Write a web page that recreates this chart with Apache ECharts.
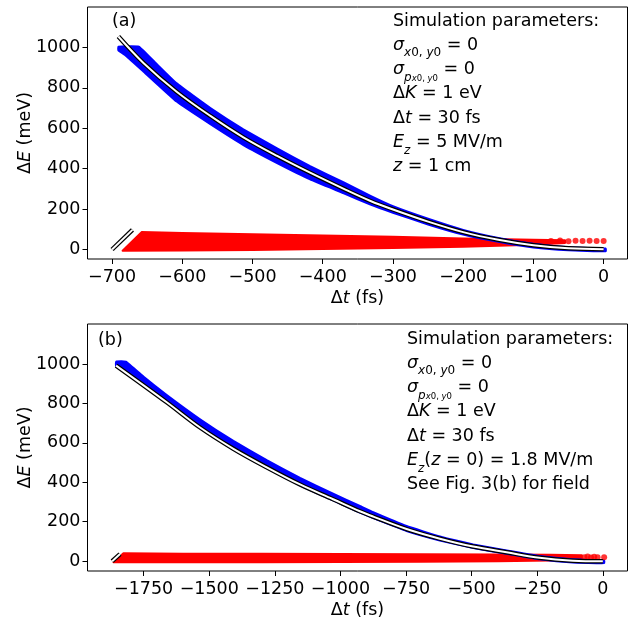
<!DOCTYPE html>
<html>
<head>
<meta charset="utf-8">
<script src="https://cdn.jsdelivr.net/npm/echarts@6/dist/echarts.min.js"></script>
<style>html,body{margin:0;padding:0;background:#fff;}#c{width:632px;height:620px;}</style>
</head>
<body>
<div id="c"></div>
<script>
// ---------- data ----------
const topXTicks = [-700, -600, -500, -400, -300, -200, -100, 0];
const bottomXTicks = [-1750, -1500, -1250, -1000, -750, -500, -250, 0];
const yTicks = [0, 200, 400, 600, 800, 1000];
const topXRange = [-735, 34];
const bottomXRange = [-1964, 94];
const topYRange = [-47, 1200];
const bottomYRange = [-50, 1203];

// panel (a)
const topLine = [[-691,1054],[-655,922],[-608,781],[-560,661],[-513,555],[-465,463],[-418,380],[-370,300],[-332,240],[-300,198],[-250,138],[-200,86],[-150,48],[-100,21],[-50,6],[0,1]];
const topBlueUpper = [[-691,1004],[-662,1004],[-640,930],[-608,822],[-560,700],[-513,595],[-465,500],[-418,412],[-370,332],[-332,265],[-300,214],[-250,152],[-200,97],[-150,57],[-100,28],[-50,11],[3,5]];
const topBlueLower = [[-691,985],[-680,958],[-655,880],[-608,732],[-560,620],[-513,517],[-465,428],[-418,347],[-370,278],[-332,222],[-300,182],[-250,124],[-200,74],[-150,38],[-100,10],[-50,-4],[3,-9]];
const topRedUpper = [[-658,86],[-600,82],[-500,75],[-400,69],[-300,63],[-200,55],[-100,48],[-55,46]];
const topRedLower = [[-685,-6],[-600,-5],[-500,-2],[-400,3],[-300,8],[-200,14],[-100,24],[-55,32]];
const topRedDots = [[-75,42],[-62,45],[-50,41],[-40,43],[-30,42],[-20,43],[-10,42],[0,42]];
const topRedLine = [[-700,0],[-671,97]];

// panel (b)
const bottomLine = [[-1855,992],[-1662,806],[-1535,678],[-1408,570],[-1281,476],[-1154,389],[-1028,314],[-926,253],[-875,226],[-748,163],[-621,114],[-494,74],[-367,45],[-241,17],[-114,2],[0,-1]];
const bottomBlueUpper = [[-1855,1012],[-1818,1012],[-1750,935],[-1662,843],[-1535,720],[-1408,610],[-1281,512],[-1154,422],[-1028,342],[-926,280],[-875,248],[-748,178],[-621,125],[-494,85],[-367,54],[-241,26],[-114,10],[5,5]];
const bottomBlueLower = [[-1855,990],[-1750,893],[-1662,804],[-1535,675],[-1408,566],[-1281,472],[-1154,384],[-1028,308],[-926,246],[-875,218],[-748,153],[-621,105],[-494,66],[-367,37],[-241,9],[-114,-7],[5,-10]];
const bottomRedUpper = [[-1827,40],[-1600,38],[-1300,37],[-1000,36],[-700,35],[-400,34],[-200,32],[-80,30]];
const bottomRedLower = [[-1865,-6],[-1600,-6],[-1300,-5],[-1000,-4],[-700,-3],[-400,0],[-200,3],[-80,8]];
const bottomRedDots = [[-70,20],[-58,24],[-45,19],[-33,22],[-20,20],[5,20]];
const bottomRedLine = [[-1870,0],[-1840,36]];

// ---------- chart ----------
const FONT = 'DejaVu Sans';
const FS = 17.5;
const minus = v => String(v).replace('-', '\u2212');

const nameRich = {n: {fontFamily: FONT, fontSize: FS, color: '#000'}, i: {fontFamily: FONT, fontSize: FS, fontStyle: 'italic', color: '#000'}};
function xAxis(gi, range, ticks) {
  return {
    type: 'value', gridIndex: gi, min: range[0], max: range[1],
    axisLine: {show: false, onZero: false},
    splitLine: {show: false},
    axisTick: {show: true, inside: false, length: 5, customValues: ticks, lineStyle: {color: '#000', width: 1}},
    axisLabel: {show: true, customValues: ticks, color: '#000', fontFamily: FONT, fontSize: FS, margin: 9, formatter: minus},
    name: '{n|Δ}{i|t}{n| (fs)}', nameLocation: 'middle', nameGap: 30,
    nameTextStyle: {rich: nameRich}
  };
}
function yAxis(gi, range) {
  return {
    type: 'value', gridIndex: gi, min: range[0], max: range[1],
    axisLine: {show: false, onZero: false},
    splitLine: {show: false},
    axisTick: {show: true, inside: false, length: 5, customValues: yTicks, lineStyle: {color: '#000', width: 1}},
    axisLabel: {show: true, customValues: yTicks, color: '#000', fontFamily: FONT, fontSize: FS, margin: 7, formatter: v => String(v)},
    name: '{n|Δ}{i|E}{n| (meV)}', nameLocation: 'middle', nameGap: 53, nameRotate: 90, nameMoveOverlap: false,
    nameTextStyle: {rich: nameRich}
  };
}
function band(gi, upper, lower, color, smooth) {
  const poly = upper.concat(lower.slice().reverse());
  return {
    type: 'custom', xAxisIndex: gi, yAxisIndex: gi, data: poly, silent: true, animation: false,
    renderItem: (params, api) => {
      if (params.dataIndex !== 0) return;
      return {type: 'polygon', shape: {points: poly.map(p => api.coord(p)), smooth: smooth},
        style: {fill: color, stroke: color, lineWidth: 2, lineJoin: 'round'}};
    }
  };
}
function outlined(gi, data, smooth) {
  const base = {type: 'line', xAxisIndex: gi, yAxisIndex: gi, data: data, symbol: 'none', smooth: smooth,
    silent: true, animation: false};
  return [
    Object.assign({}, base, {lineStyle: {color: '#000', width: 4.5, cap: 'butt'}}),
    Object.assign({}, base, {lineStyle: {color: '#fff', width: 2, cap: 'butt'}})
  ];
}
function dots(gi, data) {
  return {type: 'scatter', xAxisIndex: gi, yAxisIndex: gi, data: data, symbolSize: 6, silent: true, animation: false,
    itemStyle: {color: '#ff0000'}};
}

const LH = 28;
const richStyles = {
  n: {fontFamily: FONT, fontSize: FS, color: '#000', lineHeight: LH},
  i: {fontFamily: FONT, fontSize: FS, fontStyle: 'italic', color: '#000', lineHeight: LH},
  si: {fontFamily: FONT, fontSize: FS, fontStyle: 'italic', color: '#000', lineHeight: LH},
  sub: {fontFamily: FONT, fontSize: 12, color: '#000', verticalAlign: 'bottom', lineHeight: 16},
  subi: {fontFamily: FONT, fontSize: 12, fontStyle: 'italic', color: '#000', verticalAlign: 'bottom', lineHeight: 16},
  psub: {fontFamily: FONT, fontSize: 12, fontStyle: 'italic', color: '#000', verticalAlign: 'bottom', lineHeight: 20},
  ssub: {fontFamily: FONT, fontSize: 8.5, color: '#000', verticalAlign: 'bottom', lineHeight: 11},
  ssubi: {fontFamily: FONT, fontSize: 8.5, fontStyle: 'italic', color: '#000', verticalAlign: 'bottom', lineHeight: 11}
};
const topText = [
  '{n|Simulation parameters:}',
  '{si|σ}{subi|x}{sub|0, }{subi|y}{sub|0}{n| = 0}',
  '{si|σ}{psub|p}{ssubi|x}{ssub|0, }{ssubi|y}{ssub|0}{n| = 0}',
  '{n|Δ}{i|K}{n| = 1 eV}',
  '{n|Δ}{i|t}{n| = 30 fs}',
  '{i|E}{subi|z}{n| = 5 MV/m}',
  '{i|z}{n| = 1 cm}'
];
const bottomText = [
  '{n|Simulation parameters:}',
  '{si|σ}{subi|x}{sub|0, }{subi|y}{sub|0}{n| = 0}',
  '{si|σ}{psub|p}{ssubi|x}{ssub|0, }{ssubi|y}{ssub|0}{n| = 0}',
  '{n|Δ}{i|K}{n| = 1 eV}',
  '{n|Δ}{i|t}{n| = 30 fs}',
  '{i|E}{subi|z}{n|(}{i|z}{n| = 0) = 1.8 MV/m}',
  '{n|See Fig. 3(b) for field}'
];
const graphics = [];
function addText(lines, x, y0, dy) {
  lines.forEach((t, k) => graphics.push({type: 'text', x: x, y: y0 + k * dy, silent: true,
    style: {text: t, rich: richStyles, verticalAlign: 'middle', align: 'left'}}));
}
addText(topText, 393, 21, 24.3);
addText(bottomText, 407, 339, 24.3);
graphics.push({type: 'text', x: 112, y: 21, style: {text: '(a)', font: FS + 'px "' + FONT + '"', fill: '#000', verticalAlign: 'middle'}});
graphics.push({type: 'text', x: 98, y: 340, style: {text: '(b)', font: FS + 'px "' + FONT + '"', fill: '#000', verticalAlign: 'middle'}});

const chart = echarts.init(document.getElementById('c'), null, {renderer: 'canvas'});
chart.setOption({
  backgroundColor: '#fff',
  animation: false,
  grid: [
    {left: 87.5, width: 540, top: 7, height: 252, show: true, borderColor: '#000', borderWidth: 1, backgroundColor: 'transparent'},
    {left: 87.5, width: 540, top: 324, height: 253, show: true, borderColor: '#000', borderWidth: 1, backgroundColor: 'transparent'}
  ],
  xAxis: [xAxis(0, topXRange, topXTicks), xAxis(1, bottomXRange, bottomXTicks)],
  yAxis: [yAxis(0, topYRange), yAxis(1, bottomYRange)],
  series: [
    band(0, topRedUpper, topRedLower, '#ff0000', 0),
    dots(0, topRedDots),
    band(0, topBlueUpper, topBlueLower, '#0000ff', 0.1),
    ...outlined(0, topLine, 0.35),
    ...outlined(0, topRedLine, false),
    band(1, bottomRedUpper, bottomRedLower, '#ff0000', 0),
    dots(1, bottomRedDots),
    band(1, bottomBlueUpper, bottomBlueLower, '#0000ff', 0.1),
    ...outlined(1, bottomLine, 0.35),
    ...outlined(1, bottomRedLine, false)
  ],
  graphic: graphics
});
</script>
</body>
</html>
